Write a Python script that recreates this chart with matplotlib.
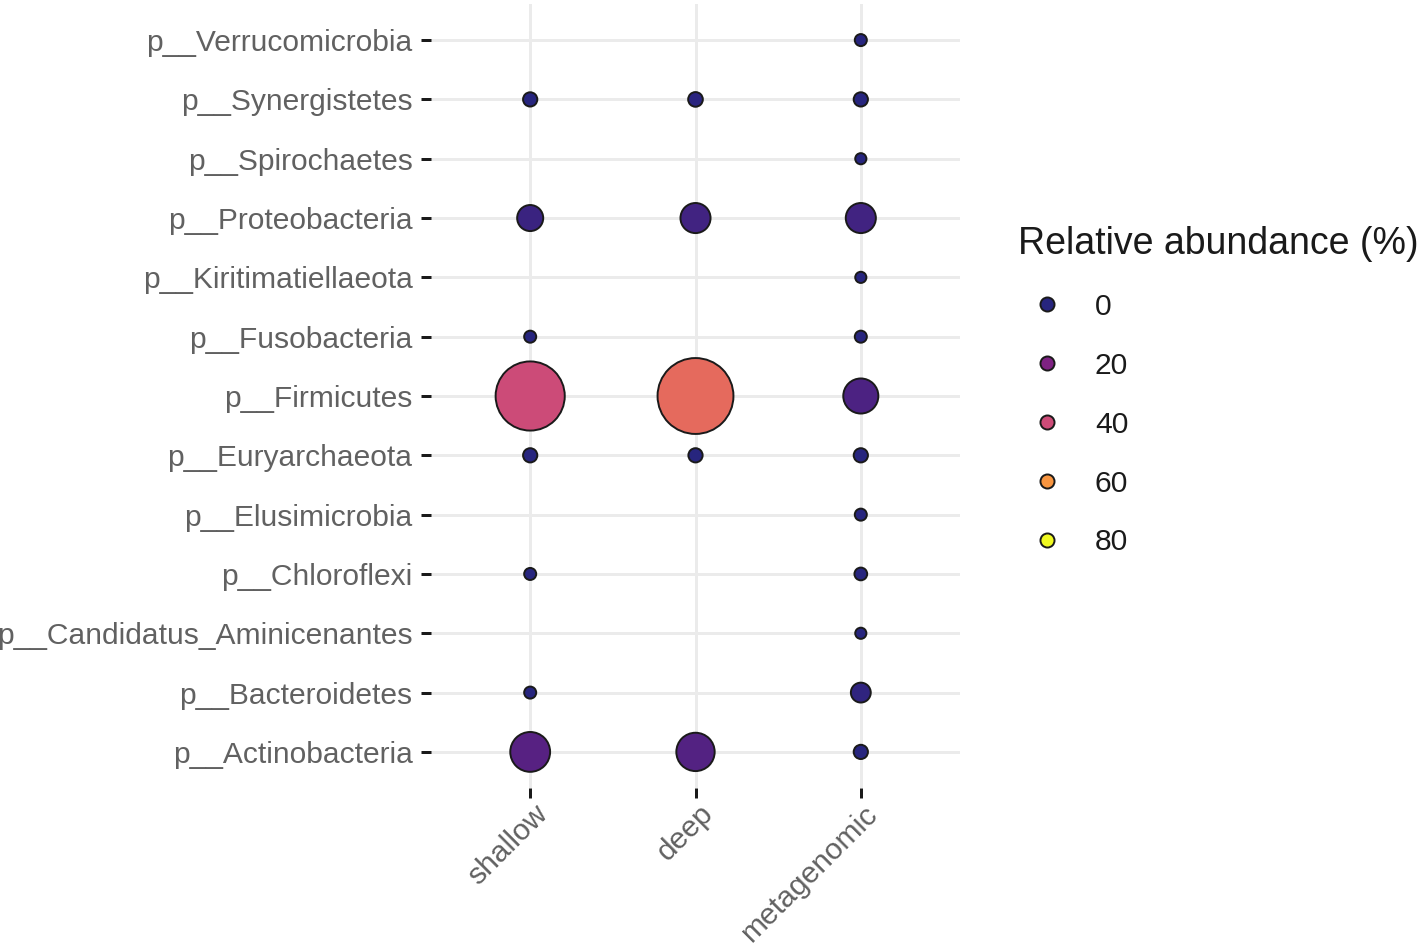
import numpy as np
import matplotlib
matplotlib.use("Agg")
import matplotlib.pyplot as plt
from matplotlib.colors import Normalize, ListedColormap
from matplotlib.lines import Line2D
import matplotlib.transforms as mtransforms

# ---- data ----
phyla = ["p__Actinobacteria", "p__Bacteroidetes", "p__Candidatus_Aminicenantes",
         "p__Chloroflexi", "p__Elusimicrobia", "p__Euryarchaeota", "p__Firmicutes",
         "p__Fusobacteria", "p__Kiritimatiellaeota", "p__Proteobacteria",
         "p__Spirochaetes", "p__Synergistetes", "p__Verrucomicrobia"]
samples = ["shallow", "deep", "metagenomic"]
nan = np.nan
shallow = [10.5, 0.1, nan, 0.1, nan, 0.3, 40.0, 0.1, nan, 3.2, nan, 0.3, nan]
deep = [9.5, nan, nan, nan, nan, 0.3, 49.5, nan, nan, 4.9, nan, 0.35, nan]
metagenomic = [0.3, 1.3, 0.05, 0.15, 0.1, 0.3, 7.5, 0.1, 0.05, 4.9, 0.05, 0.3, 0.1]
legend_breaks = [0, 20, 40, 60, 80]

plt.rcParams["font.family"] = ["Liberation Sans", "DejaVu Sans"]

DPI = 100
W, H = 1421, 946
fig = plt.figure(figsize=(W / DPI, H / DPI), dpi=DPI)
px = 72.0 / DPI  # points per pixel

left, right, top, bottom = 431, 960, 4.5, 787.5
ax = fig.add_axes([left / W, 1 - bottom / H, (right - left) / W, (bottom - top) / H])

# plasma, slightly muted in the deep blues as in the printed reference
base = plt.get_cmap("plasma")(np.linspace(0, 1, 256))[:, :3] * 255
R, G, B = base[:, 0], base[:, 1], base[:, 2]
R2 = R + np.clip(30 * (1 - R / 110), 0, None)
G2 = G + np.clip(32 * (1 - G / 80), 0, None)
B2 = B - np.clip(B - 125, 0, None) * 0.85
cmap = ListedColormap(np.clip(np.stack([R2, G2, B2], axis=1) / 255, 0, 1))
norm = Normalize(vmin=0, vmax=80)
EDGE_LW = 1.4


def marker_area(v):
    d_px = 11.0 + 9.5 * np.sqrt(v)          # outer diameter in pixels
    d_pt = (d_px - EDGE_LW / px) * px
    return d_pt ** 2


for xi, vals in enumerate([shallow, deep, metagenomic]):
    vals = np.asarray(vals, dtype=float)
    ok = ~np.isnan(vals)
    ys = np.arange(len(phyla))[ok]
    v = vals[ok]
    ax.scatter(np.full(len(ys), xi), ys, s=marker_area(v), c=v, cmap=cmap, norm=norm,
               edgecolors="#1a1a1a", linewidths=EDGE_LW, zorder=3)

ax.set_xlim(-0.6, 2.6)
ax.set_ylim(-0.6, len(phyla) - 1 + 0.6)
ax.set_xticks(range(len(samples)))
ax.set_yticks(range(len(phyla)))
ax.set_yticklabels(phyla)
ax.set_xticklabels(samples, rotation=45, ha="right", va="top", rotation_mode="anchor")

for s in ax.spines.values():
    s.set_visible(False)
ax.grid(True, color="#ebebeb", linewidth=2.1, zorder=0)
ax.set_axisbelow(True)
lab_color = "#616161"
ax.tick_params(axis="both", which="major", length=10 * px, width=3 * px, color="#1a1a1a",
               labelsize=30 * px, labelcolor=lab_color)
ax.tick_params(axis="y", pad=8.5 * px)
ax.tick_params(axis="x", pad=2 * px)

offset = mtransforms.ScaledTranslation(3 / DPI, 0, fig.dpi_scale_trans)
for lab in ax.get_xticklabels():
    lab.set_transform(lab.get_transform() + offset)

# ---- legend ----
handles = [Line2D([], [], linestyle="none", marker="o", markersize=(16 - EDGE_LW / px) * px,
                  markerfacecolor=cmap(norm(b)), markeredgecolor="#1a1a1a",
                  markeredgewidth=EDGE_LW) for b in legend_breaks]
leg = fig.legend(handles, [str(b) for b in legend_breaks], loc="upper left",
                 bbox_to_anchor=(1018 / W, 1 - 226 / H), frameon=False,
                 fontsize=30 * px, title="Relative abundance (%)",
                 title_fontsize=37.5 * px, alignment="left",
                 handlelength=1.93, handletextpad=0.63, labelspacing=1.03,
                 borderpad=0, borderaxespad=0)
for t in leg.get_texts():
    t.set_color("#1a1a1a")
leg.get_title().set_color("#1a1a1a")

fig.savefig("out.png", dpi=DPI)
